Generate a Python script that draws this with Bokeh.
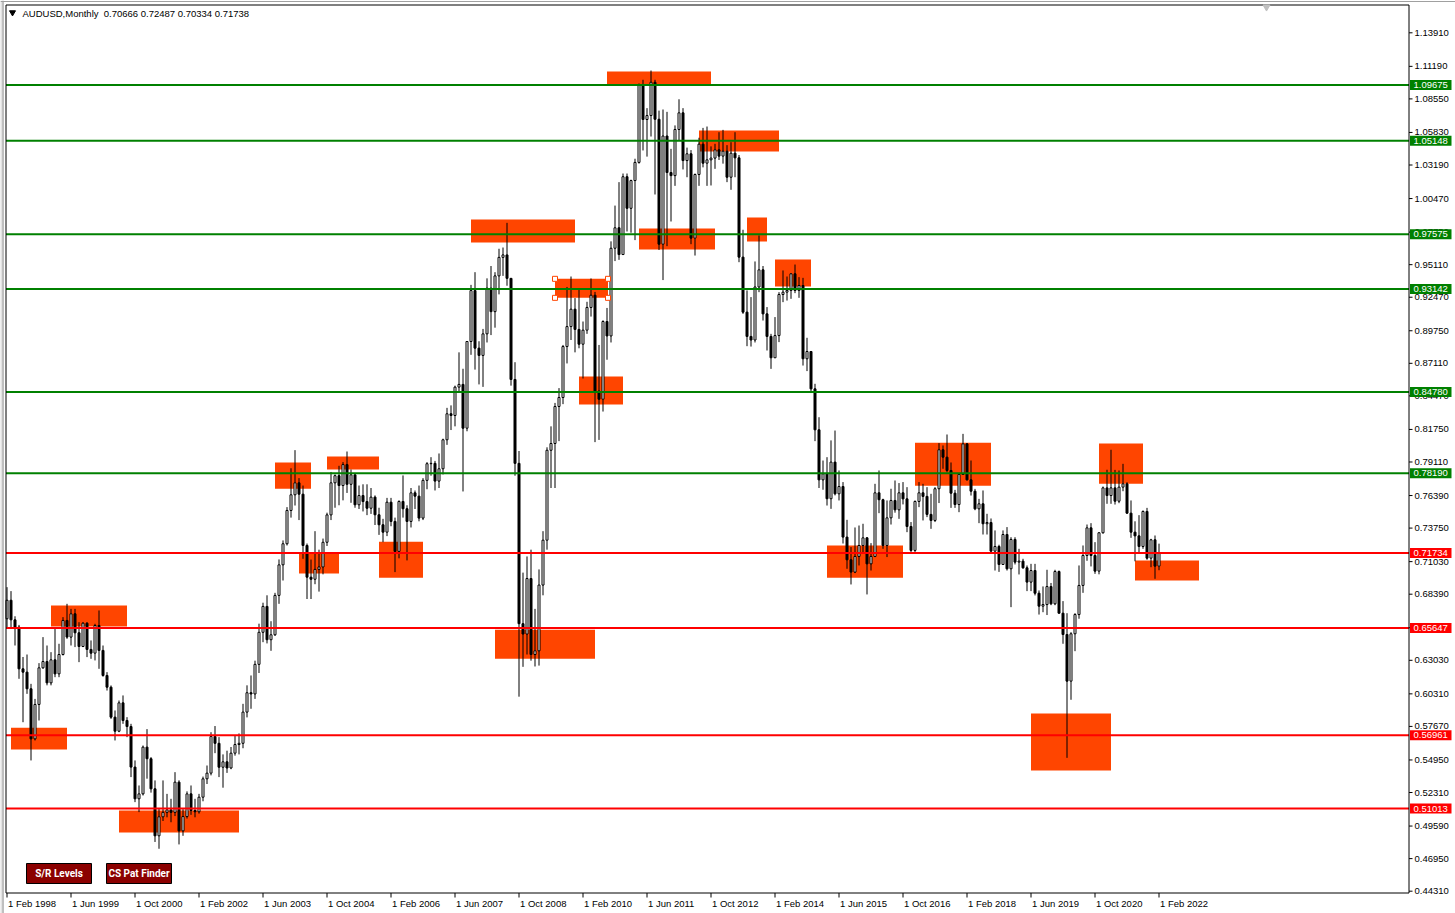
from bokeh.plotting import figure
from bokeh.models import Range1d, Label, BoxAnnotation, ColumnDataSource
from bokeh.core.properties import value
from bokeh.embed import file_html
from bokeh.resources import INLINE

symbol = "AUDUSD"
timeframe = "Monthly"

# Monthly bars, Feb 1998 .. Feb 2022 (bar 0 = Feb 1998)
first_open = 0.6640
closes = [
    # 1998 Feb-Dec
    .6790, .6631, .6572, .6234, .6207, .6072, .5666, .5945, .6242, .6293, .6120,
    # 1999
    .6307, .6193, .6350, .6626, .6491, .6680, .6526, .6415, .6604, .6391, .6361, .6585,
    # 2000
    .6383, .6180, .6085, .5842, .5728, .5958, .5815, .5766, .5437, .5180, .5220, .5599,
    # 2001
    .5505, .5261, .4880, .5034, .5070, .5090, .5070, .5315, .4920, .5036, .5220, .5085,
    # 2002
    .5075, .5193, .5342, .5388, .5685, .5630, .5436, .5480, .5430, .5550, .5620, .5630,
    # 2003
    .5883, .6040, .6030, .6270, .6530, .6740, .6470, .6510, .6829, .7077, .7248, .7518,
    # 2004
    .7645, .7742, .7650, .7234, .6977, .6960, .7040, .7060, .7260, .7482, .7742, .7800,
    # 2005
    .7720, .7890, .7730, .7807, .7564, .7639, .7590, .7536, .7626, .7483, .7402, .7342,
    # 2006
    .7585, .7429, .7186, .7591, .7532, .7429, .7661, .7634, .7456, .7762, .7897, .7900,
    # 2007
    .7756, .7856, .8091, .8302, .8288, .8518, .8540, .8185, .8888, .9301, .8834, .8775,
    # 2008
    .8950, .9320, .9130, .9420, .9570, .9590, .9400, .8580, .7900, .6600, .6516, .6966,
    # 2009
    .6350, .6380, .6913, .7277, .8006, .8061, .8361, .8434, .8847, .9009, .9150, .8986,
    # 2010
    .8866, .8980, .9164, .9263, .8486, .8420, .9050, .8933, .9644, .9810, .9593, 1.0224,
    # 2011
    .9968, 1.0193, 1.0340, 1.0968, 1.0688, 1.0720, 1.0990, 1.0690, .9677, 1.0554, 1.0258, 1.0233,
    # 2012
    1.0607, 1.0742, 1.0355, 1.0410, .9726, 1.0242, 1.0488, 1.0334, 1.0361, 1.0375, 1.0442, 1.0391,
    # 2013
    1.0431, 1.0220, 1.0415, 1.0377, .9572, .9126, .8929, .8900, .9330, .9469, .9112, .8929,
    # 2014
    .8756, .8936, .9269, .9288, .9302, .9437, .9302, .9342, .8748, .8807, .8504, .8172,
    # 2015
    .7766, .7815, .7613, .7910, .7653, .7712, .7302, .7118, .7018, .7145, .7234, .7296,
    # 2016
    .7085, .7145, .7661, .7605, .7234, .7458, .7599, .7523, .7661, .7612, .7388, .7194,
    # 2017
    .7591, .7661, .7632, .7486, .7437, .7694, .8010, .7950, .7842, .7658, .7566, .7810,
    # 2018
    .8058, .7766, .7674, .7531, .7572, .7410, .7420, .7188, .7226, .7080, .7323, .7045,
    # 2019
    .7283, .7099, .7107, .7053, .6937, .7031, .6847, .6742, .6755, .6901, .6761, .7023,
    # 2020
    .6685, .6512, .6134, .6518, .6674, .6910, .7153, .7377, .7153, .7026, .7337, .7701,
    # 2021
    .7639, .7701, .7593, .7707, .7734, .7496, .7342, .7312, .7226, .7510, .7131, .7280,
    # 2022 Jan-Feb
    .70666, .71738,
]
highs = [
    .6896, .6864, .6660, .6590, .6330, .6350, .6112, .5990, .6280, .6491, .6423,
    .6369, .6558, .6437, .6653, .6761, .6720, .6720, .6612, .6612, .6612, .6464, .6599,
    .6707, .6423, .6207, .6099, .5896, .5977, .6018, .5842, .5788, .5491, .5288, .5612,
    .5745, .5518, .5329, .5100, .5329, .5220, .5180, .5396, .5330, .5096, .5240, .5288,
    .5180, .5220, .5360, .5450, .5720, .5770, .5680, .5540, .5570, .5600, .5690, .5710,
    .5950, .6100, .6180, .6300, .6600, .6770, .6830, .6620, .6850, .7121, .7275, .7545,
    .7860, .8007, .7780, .7720, .7250, .7120, .7350, .7200, .7290, .7500, .7830, .7810,
    .7880, .7910, .7996, .7850, .7810, .7720, .7730, .7730, .7700, .7640, .7540, .7450,
    .7620, .7620, .7460, .7600, .7802, .7560, .7700, .7680, .7720, .7780, .7910, .7950,
    .7920, .7980, .8100, .8350, .8370, .8530, .8800, .8667, .8890, .9347, .9450, .8890,
    .8990, .9400, .9500, .9450, .9640, .9650, .9850, .9400, .8720, .8000, .7014, .7145,
    .7200, .6720, .7040, .7350, .8030, .8200, .8390, .8510, .8860, .9330, .9415, .9240,
    .9320, .9050, .9210, .9399, .9290, .8860, .9060, .9160, .9700, .9990, 1.0180, 1.0250,
    1.0250, 1.0200, 1.0370, 1.0980, 1.1010, 1.0780, 1.1085, 1.1010, 1.0760, 1.0769, 1.0750, 1.0450,
    1.0640, 1.0852, 1.0780, 1.0460, 1.0440, 1.0250, 1.0540, 1.0620, 1.0631, 1.0470, 1.0491, 1.0585,
    1.0604, 1.0480, 1.0504, 1.0585, 1.0400, .9794, .9302, .9248, .9537, .9748, .9500, .9167,
    .8950, .9086, .9288, .9464, .9415, .9442, .9512, .9410, .9404, .8918, .8794, .8545,
    .8274, .7923, .7950, .8086, .8166, .7842, .7748, .7442, .7221, .7380, .7396, .7410,
    .7302, .7253, .7734, .7842, .7613, .7599, .7694, .7761, .7740, .7748, .7707, .7424,
    .7599, .7748, .7734, .7707, .7653, .7707, .8064, .8045, .8134, .7907, .7685, .7820,
    .8139, .8064, .7923, .7693, .7612, .7680, .7491, .7453, .7356, .7240, .7356, .7383,
    .7301, .7301, .7207, .7126, .7072, .7085, .7085, .6869, .6902, .7037, .6930, .7037,
    .7031, .6783, .6685, .6531, .6685, .7072, .7234, .7404, .7415, .7261, .7342, .7712,
    .7848, .8010, .7847, .7842, .7896, .7747, .7599, .7430, .7480, .7518, .7539, .7288,
    .7315, .72487,
]
lows = [
    .6560, .6572, .6423, .6153, .5801, .6031, .5491, .5653, .5815, .6234, .6100,
    .6100, .6166, .6166, .6342, .6477, .6423, .6410, .6288, .6410, .6329, .6315, .6302,
    .6234, .6170, .6058, .5828, .5653, .5720, .5788, .5680, .5356, .5153, .5072, .5207,
    .5343, .5230, .4830, .4775, .5000, .5030, .4990, .5040, .4810, .4880, .5020, .5050,
    .5030, .5060, .5160, .5300, .5370, .5550, .5356, .5270, .5390, .5420, .5530, .5540,
    .5590, .5840, .5910, .5990, .6200, .6450, .6440, .6380, .6500, .6761, .6950, .7234,
    .7460, .7558, .7440, .7126, .6800, .6800, .6920, .6860, .7000, .7230, .7440, .7540,
    .7560, .7600, .7660, .7580, .7540, .7530, .7510, .7480, .7490, .7400, .7320, .7261,
    .7310, .7390, .7018, .7130, .7460, .7113, .7380, .7530, .7430, .7440, .7690, .7800,
    .7680, .7700, .7810, .8050, .8170, .8200, .8480, .7672, .8160, .8780, .8660, .8540,
    .8520, .8880, .8940, .9000, .9270, .9420, .9340, .8530, .7800, .6008, .6250, .6350,
    .6300, .6253, .6260, .6830, .7200, .7700, .7700, .8080, .8380, .8710, .8900, .8800,
    .8833, .8588, .8950, .9090, .8072, .8090, .8320, .8740, .8880, .9540, .9550, .9680,
    .9780, .9770, .9710, 1.0330, 1.0437, 1.0387, 1.0550, 1.0080, .9630, .9386, .9661, .9861,
    1.0150, 1.0520, 1.0283, 1.0220, .9677, .9585, 1.0150, 1.0300, 1.0150, 1.0153, 1.0288, 1.0360,
    1.0330, 1.0180, 1.0118, 1.0220, .9531, .9112, .8850, .8847, .8880, .9288, .9058, .8815,
    .8666, .8775, .8883, .9207, .9220, .9234, .9280, .9242, .8693, .8648, .8470, .8080,
    .7700, .7686, .7558, .7531, .7640, .7599, .7250, .7045, .6918, .7010, .7072, .7167,
    .6837, .7031, .7140, .7496, .7207, .7140, .7404, .7500, .7450, .7567, .7342, .7177,
    .7177, .7545, .7437, .7464, .7369, .7424, .7578, .7856, .7828, .7539, .7539, .7504,
    .7810, .7761, .7639, .7520, .7415, .7323, .7323, .7180, .7031, .7020, .7085, .7031,
    .6734, .7080, .6999, .7045, .6864, .6864, .6829, .6674, .6693, .6670, .6750, .6750,
    .6682, .6437, .5512, .5983, .6377, .6640, .6850, .7110, .7064, .7004, .7000, .7330,
    .7572, .7572, .7566, .7577, .7674, .7491, .7296, .7106, .7170, .7207, .7118, .7058,
    .6964, .70334,
]

# time axis labels (every 16 bars)
date_tick_bars = [0, 16, 32, 48, 64, 80, 96, 112, 128, 144, 160, 176, 192, 208, 224, 240, 256, 272, 288]
date_tick_labels = ["1 Feb 1998", "1 Jun 1999", "1 Oct 2000", "1 Feb 2002", "1 Jun 2003", "1 Oct 2004",
                    "1 Feb 2006", "1 Jun 2007", "1 Oct 2008", "1 Feb 2010", "1 Jun 2011", "1 Oct 2012",
                    "1 Feb 2014", "1 Jun 2015", "1 Oct 2016", "1 Feb 2018", "1 Jun 2019", "1 Oct 2020",
                    "1 Feb 2022"]

price_ticks = [1.1391, 1.1119, 1.0855, 1.0583, 1.0319, 1.0047, 0.9775, 0.9511, 0.9247, 0.8975, 0.8711,
               0.8447, 0.8175, 0.7911, 0.7639, 0.7375, 0.7103, 0.6839, 0.6567, 0.6303, 0.6031, 0.5767,
               0.5495, 0.5231, 0.4959, 0.4695, 0.4431]

# support / resistance levels
levels = [1.09675, 1.05148, 0.97575, 0.93142, 0.84780, 0.78190, 0.71734, 0.65647, 0.56961, 0.51013]
level_colors = ["#008000"] * 6 + ["#FF0000"] * 4

# pattern zones (bar index range, price range)
zone_left = [1, 11, 28, 67, 73, 80, 93, 116, 122, 137, 143, 150, 158, 173, 185, 192, 205, 227, 256, 273, 282]
zone_right = [15, 30, 58, 76, 83, 93, 104, 142, 147, 150.25, 154, 176, 177, 193, 190, 201, 224, 246, 276, 284, 298]
zone_top = [.5757, .6747, .5085, .7906, .7168, .7955, .7265, .9877, .6550, .9396, .8605, 1.1077, .9804,
            1.0599, .9893, .9553, .7233, .8068, .5871, .8060, .7112]
zone_bottom = [.5579, .6577, .4907, .7695, .7006, .7850, .6973, .9691, .6315, .9242, .8378, 1.0972, .9634,
               1.0429, .9699, .9334, .6973, .7719, .5409, .7735, .6950]
selected_zone = 9

buttons = ["S/R Levels", "CS Pat Finder"]

# ---------------------------------------------------------------
W, H = 1455, 913
BAR0_PX, PX_PER_BAR = 6.5, 4.0          # bar 0 centre, bar spacing (px)
REF_PRICE, REF_PY, PX_PER_UNIT = 1.1391, 32.3, 1233.3


def xd(px):
    return (px - BAR0_PX) / PX_PER_BAR


def yd(py):
    return REF_PRICE - (py - REF_PY) / PX_PER_UNIT


FR_L, FR_R, FR_T, FR_B = 5.5, 1408.5, 4.5, 892.5   # chart frame (px)
FONT = "Liberation Sans"
FS = "9.5px"

n = len(closes)
opens = [first_open] + closes[:-1]
bars = list(range(n))
body_top = [max(o, c) for o, c in zip(opens, closes)]
body_bot = [min(o, c) for o, c in zip(opens, closes)]
body_fill = ["white" if c >= o else "black" for o, c in zip(opens, closes)]
src = ColumnDataSource(dict(x=bars, h=highs, l=lows, top=body_top, bottom=body_bot, fill=body_fill))

p = figure(width=W, height=H, x_range=Range1d(xd(0), xd(W)), y_range=Range1d(yd(H), yd(0)),
           output_backend="svg", toolbar_location=None, title=None,
           x_axis_location=None, y_axis_location=None,
           min_border_left=0, min_border_top=0, min_border_right=0, min_border_bottom=0,
           background_fill_color="white", border_fill_color="white", outline_line_color=None)
p.xgrid.visible = False
p.ygrid.visible = False

# window border
p.segment(x0=[xd(0.5), xd(2.5)], y0=[yd(0), yd(0)], x1=[xd(0.5), xd(2.5)], y1=[yd(H), yd(H)],
          line_color=["#C8C8C8", "#808080"], line_width=[1, 1])
p.segment(x0=[xd(0)], y0=[yd(1)], x1=[xd(W)], y1=[yd(1)], line_color="#A0A0A0", line_width=1)

# zones
p.quad(left=zone_left, right=zone_right, top=zone_top, bottom=zone_bottom,
       fill_color="#FF4500", line_color=None)

# candles
p.segment(x0="x", y0="l", x1="x", y1="h", source=src, line_color="black", line_width=1)
p.vbar(x="x", width=0.5, top="top", bottom="bottom", source=src,
       fill_color="fill", line_color="black", line_width=1)

# levels
p.segment(x0=[xd(FR_L)] * len(levels), y0=levels, x1=[xd(FR_R)] * len(levels), y1=levels,
          line_color=level_colors, line_width=2)

# selection handles on the selected zone
sz = selected_zone
p.scatter(x=[zone_left[sz], zone_right[sz], zone_left[sz], zone_right[sz]],
          y=[zone_top[sz], zone_top[sz], zone_bottom[sz], zone_bottom[sz]],
          marker="square", size=5, fill_color="white", line_color="#FF4500", line_width=1)

# chart frame
p.segment(x0=[xd(FR_L), xd(FR_L), xd(FR_R), xd(FR_L)],
          y0=[yd(FR_T), yd(FR_T), yd(FR_T), yd(FR_B)],
          x1=[xd(FR_L), xd(FR_R), xd(FR_R), xd(FR_R)],
          y1=[yd(FR_B), yd(FR_T), yd(FR_B), yd(FR_B)],
          line_color="black", line_width=1)

# price scale
p.segment(x0=[xd(FR_R)] * len(price_ticks), y0=price_ticks,
          x1=[xd(FR_R + 3.5)] * len(price_ticks), y1=price_ticks, line_color="black", line_width=1)
p.text(x=[xd(1414)] * len(price_ticks), y=price_ticks, text=[f"{v:.5f}" for v in price_ticks],
       text_font=value(FONT), text_font_size=FS, text_color="black",
       text_align="left", text_baseline="middle")

# level tags on the price scale
half = 5.0 / PX_PER_UNIT
p.quad(left=[xd(1409.5)] * len(levels), right=[xd(1451)] * len(levels),
       top=[v + half for v in levels], bottom=[v - half for v in levels],
       fill_color=level_colors, line_color=None)
p.text(x=[xd(1413)] * len(levels), y=levels, text=[f"{v:.5f}" for v in levels],
       text_font=value(FONT), text_font_size=FS, text_color="white",
       text_align="left", text_baseline="middle")

# time scale
p.segment(x0=date_tick_bars, y0=[yd(FR_B)] * len(date_tick_bars),
          x1=date_tick_bars, y1=[yd(FR_B + 4.5)] * len(date_tick_bars), line_color="black", line_width=1)
p.text(x=date_tick_bars, y=[yd(902.5)] * len(date_tick_bars), text=date_tick_labels, x_offset=1,
       text_font=value(FONT), text_font_size=FS, text_color="black",
       text_align="left", text_baseline="middle")

# header
header = f"{symbol},{timeframe}\u00a0 {opens[-1]:.5f} {highs[-1]:.5f} {lows[-1]:.5f} {closes[-1]:.5f}"
p.scatter(x=[xd(12)], y=[yd(12)], marker="inverted_triangle", size=6,
          fill_color="black", line_color="black")
p.add_layout(Label(x=22, y=H - 12.5, x_units="screen", y_units="screen", text=header,
                   text_font=FONT, text_font_size=FS, text_color="black",
                   text_align="left", text_baseline="middle"))
p.scatter(x=[xd(1266)], y=[yd(6.5)], marker="inverted_triangle", size=7,
          fill_color="#C0C0C0", line_color="#C0C0C0")

# buttons
for k, name in enumerate(buttons):
    left = 26 + 80 * k
    p.add_layout(BoxAnnotation(left=left, right=left + 65, bottom=H - 883, top=H - 863,
                               left_units="screen", right_units="screen",
                               bottom_units="screen", top_units="screen",
                               fill_color="#8B0000", fill_alpha=1.0,
                               line_color="black", line_alpha=1.0, line_width=1))
    p.add_layout(Label(x=left + 32.5, y=H - 873, x_units="screen", y_units="screen", text=name,
                       text_font="Roboto", text_font_style="bold", text_font_size="10px",
                       text_color="white", text_align="center", text_baseline="middle"))

open("out.html", "w").write(file_html(p, INLINE))
